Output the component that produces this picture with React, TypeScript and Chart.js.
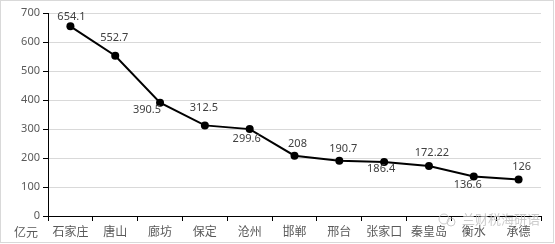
import React, { useEffect, useRef } from "react";
import { Chart, registerables } from "chart.js";

Chart.register(...registerables);

const categories = ["石家庄", "唐山", "廊坊", "保定", "沧州", "邯郸", "邢台", "张家口", "秦皇岛", "衡水", "承德"];
const values = [654.1, 552.7, 390.5, 312.5, 299.6, 208, 190.7, 186.4, 172.22, 136.6, 126];
const valueLabels = ["654.1", "552.7", "390.5", "312.5", "299.6", "208", "190.7", "186.4", "172.22", "136.6", "126"];
// label placement offsets (dx, dy) relative to the point, in px
const labelOffsets: [number, number][] = [
  [1, -9], [-1, -18], [-13, 7], [-1, -18], [-3, 10], [3, -12], [4, -12], [-3, 7], [3, -13], [-6, 8], [3, -13],
];
const unitLabel = "亿元";
const watermark = "兰财税海研语";

const NUM_FONT = "'Noto Sans', 'Noto Sans CJK SC', sans-serif";
const CJK_FONT = "'Noto Sans CJK SC', sans-serif";

const decorPlugin = {
  id: "decor",
  afterDraw(chart: any) {
    const ctx = chart.ctx;
    ctx.save();
    ctx.strokeStyle = "#d9d9d9";
    ctx.lineWidth = 1;
    ctx.strokeRect(0.5, 0.5, 553, 242);
    ctx.fillStyle = "#595959";
    ctx.font = `12px ${CJK_FONT}`;
    ctx.textAlign = "left";
    ctx.textBaseline = "middle";
    ctx.fillText(unitLabel, 14, 232);
    ctx.font = `13px ${CJK_FONT}`;
    ctx.fillStyle = "rgba(190,190,190,0.8)";
    ctx.fillText(watermark, 462, 219);
    ctx.strokeStyle = "rgba(190,190,190,0.8)";
    ctx.beginPath();
    ctx.arc(444, 219, 5, 0, Math.PI * 2);
    ctx.stroke();
    ctx.beginPath();
    ctx.arc(451, 222, 4, 0, Math.PI * 2);
    ctx.stroke();
    ctx.restore();
  },
  afterDatasetsDraw(chart: any) {
    const ctx = chart.ctx;
    const meta = chart.getDatasetMeta(0);
    ctx.save();
    ctx.font = `11px ${NUM_FONT}`;
    ctx.fillStyle = "#404040";
    ctx.textAlign = "center";
    ctx.textBaseline = "middle";
    meta.data.forEach((pt: any, i: number) => {
      const [dx, dy] = labelOffsets[i];
      ctx.fillText(valueLabels[i], pt.x + dx, pt.y + dy);
    });
    ctx.restore();
  },
};

export default function App() {
  const ref = useRef<HTMLCanvasElement>(null);
  useEffect(() => {
    document.body.style.margin = "0";
    const chart = new Chart(ref.current!, {
      type: "line",
      data: {
        labels: categories,
        datasets: [
          {
            data: values,
            borderColor: "#000000",
            backgroundColor: "#000000",
            borderWidth: 2,
            pointRadius: 4,
            pointBorderWidth: 0,
            pointBackgroundColor: "#000000",
            pointBorderColor: "#000000",
            tension: 0,
          },
        ],
      },
      options: {
        animation: false,
        responsive: false,
        maintainAspectRatio: false,
        layout: { padding: { left: 0, top: 13, right: 14, bottom: 0 } },
        plugins: { legend: { display: false }, tooltip: { enabled: false } },
        scales: {
          x: {
            type: "category",
            offset: true,
            grid: {
              display: true,
              drawOnChartArea: false,
              drawTicks: true,
              tickLength: 5,
              tickColor: "#000000",
              offset: true,
            },
            border: { display: true, color: "#000000", width: 1 },
            ticks: {
              color: "#595959",
              font: { family: CJK_FONT, size: 12 },
              padding: 3,
              maxRotation: 0,
              autoSkip: false,
            },
            afterFit: (s: any) => {
              s.height = 28;
            },
          },
          y: {
            min: 0,
            max: 700,
            ticks: {
              stepSize: 100,
              color: "#595959",
              font: { family: NUM_FONT, size: 11 },
              padding: 3,
            },
            grid: {
              color: "#d9d9d9",
              tickColor: "#000000",
              tickLength: 5,
              drawTicks: true,
            },
            border: { display: true, color: "#000000", width: 1 },
            afterFit: (s: any) => {
              s.width = 48;
            },
          },
        },
      },
      plugins: [decorPlugin],
    } as any);
    return () => chart.destroy();
  }, []);
  return (
    <div style={{ position: "absolute", left: 0, top: 0, width: 555, height: 244, background: "#fff" }}>
      <canvas ref={ref} width={555} height={244} style={{ display: "block", width: 555, height: 244 }} />
    </div>
  );
}
